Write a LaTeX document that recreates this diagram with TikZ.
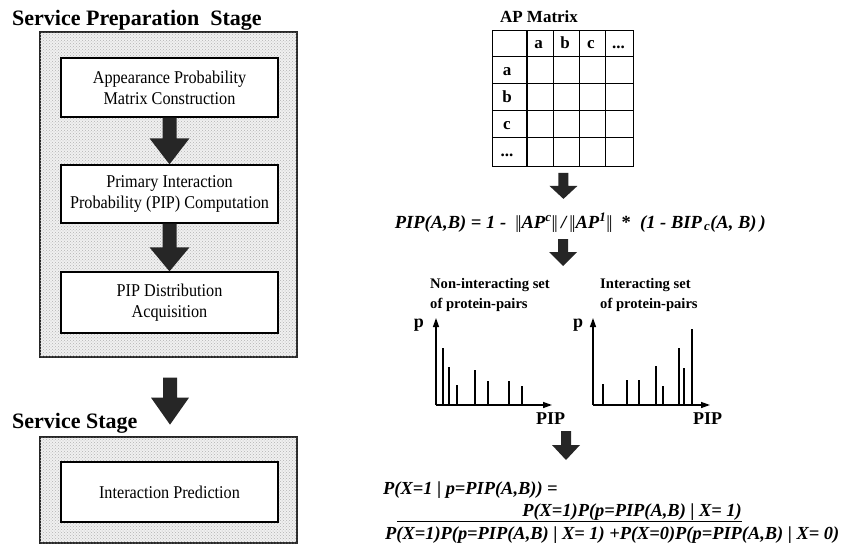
\documentclass[tikz,border=0pt]{standalone}
\usepackage{fontspec}
\setmainfont{Liberation Serif}
\newfontfamily\narrowserif[FakeStretch=0.9]{Liberation Serif}
\usetikzlibrary{patterns,arrows.meta,calc}

% double bar used in the norm terms
\newcommand\dbar{\textup{\mdseries|\kern-1.2pt|}}

% block arrow between two points: start, tip, shaft half width, head half width, head length
\newcommand\fatarrow[5]{%
  \fill[fatarr] let \p1=(#1), \p2=(#2) in
    (\x1-#3pt,\y1) -- (\x1+#3pt,\y1) -- (\x1+#3pt,\y2+#5pt) -- (\x1+#4pt,\y2+#5pt)
    -- (\x1,\y2) -- (\x1-#4pt,\y2+#5pt) -- (\x1-#3pt,\y2+#5pt) -- cycle;}

\begin{document}
\begin{tikzpicture}[x=1pt,y=-1pt,
  stage/.style={draw=black!85, line width=1.3pt, fill=black!6,
    postaction={pattern=crosshatch dots, pattern color=black!30}, inner sep=0pt},
  stepbox/.style={draw=black, line width=1.4pt, fill=white, align=center,
    inner sep=0pt, minimum width=217pt,
    font=\narrowserif\fontsize{18}{21}\selectfont},
  stagetitle/.style={anchor=base west, inner sep=0pt,
    font=\bfseries\fontsize{22}{26}\selectfont},
  fatarr/.style={fill=black!85},
  fml/.style={inner sep=0pt, font=\bfseries\itshape\fontsize{18.5}{20}\selectfont},
  fmlb/.style={inner sep=0pt, font=\bfseries\itshape\fontsize{18.4}{20}\selectfont},
  setlabel/.style={anchor=west, align=left, inner sep=0pt,
    font=\bfseries\fontsize{14.6}{20}\selectfont},
  axlabel/.style={inner sep=0pt, font=\bfseries\fontsize{18}{20}\selectfont},
  cell/.style={inner sep=0pt, anchor=base, font=\bfseries\fontsize{17}{18}\selectfont},
  grid/.style={line width=1.2pt},
  axis/.style={line width=1.3pt, -{Triangle[length=9pt,width=6pt]}},
  bar/.style={line width=1.8pt},
]
\useasboundingbox (0,0) rectangle (843,546);

% ---------------- left column: the two stages ----------------
\node[stagetitle] (t1) at (12,25) {Service Preparation\ \ Stage};
\node[stage, minimum width=257pt, minimum height=325pt] (prep) at (168.5,194.5) {};

\node[stepbox, minimum height=59pt] (b1) at (169.5,87.5)
  {Appearance Probability\\Matrix Construction};
\node[stepbox, minimum height=58pt] (b2) at (169.5,194)
  {Primary Interaction\\Probability (PIP) Computation};
\node[stepbox, minimum height=61pt] (b3) at (169.5,302.5)
  {PIP Distribution\\Acquisition};

\fatarrow{b1.south}{b2.north}{7}{20}{26}
\fatarrow{b2.south}{b3.north}{7}{20}{24}

\coordinate (g1) at ($(prep.south)+(1.5,20)$);
\coordinate (g2) at ($(prep.south)+(1.5,67)$);
\fatarrow{g1}{g2}{7}{19}{27}

\node[stagetitle] (t2) at (12,428) {Service Stage};
\node[stage, minimum width=257pt, minimum height=106pt] (serv) at (168.5,490) {};
\node[stepbox, minimum height=60pt] (b4) at (169.5,492) {Interaction Prediction};

% ---------------- right column: AP matrix and PIP model ----------------
\node[anchor=base, inner sep=0pt, font=\bfseries\fontsize{17}{20}\selectfont]
  (aplabel) at (539,23) {AP Matrix};

% 5 x 5 table of appearance probabilities
\node[draw, grid, anchor=north west, inner sep=0pt,
  minimum width=140.7pt, minimum height=135.7pt] (apm) at (492,30) {};
\foreach \cx in {527,553.3,579.3,605.3}
  \draw[grid] (\cx,30) -- (\cx,165.7);
\foreach \ry in {56.7,83.3,110.7,137.7}
  \draw[grid] (492,\ry) -- (632.7,\ry);
\node[cell] (ha) at (538.5,48.5) {a};
\node[cell] (hb) at (565,48.5) {b};
\node[cell] (hc) at (591,48.5) {c};
\node[cell] (hd) at (618.5,48.5) {...};
\node[cell] (ra) at (507,75) {a};
\node[cell] (rb) at (507,102) {b};
\node[cell] (rc) at (507,129) {c};
\node[cell] (rd) at (507,156) {...};

\coordinate (m1) at ($(apm.south)+(0.5,6)$);
\coordinate (m2) at ($(apm.south)+(0.5,32)$);
\fatarrow{m1}{m2}{5}{14}{13}

% PIP formula, split at the slash
\node[fml, anchor=base east] (f1) at (561,228)
  {PIP(A,B) = 1 -\ \ \dbar AP\textsuperscript{c}\dbar\,};
\node[fml, anchor=base west] (f1r) at (f1.base east)
  {/\,\dbar AP\textsuperscript{1}\dbar\ \ \textup{*}\ \ (1 - BIP\textsubscript{\,c}(A, B)\,)};

\coordinate (m3) at (563,239);
\coordinate (m4) at (563,266);
\fatarrow{m3}{m4}{5}{14}{14}

% distribution of non-interacting pairs
\node[setlabel] (l1) at (430,295) {Non-interacting set\\of protein-pairs};
\coordinate (o1) at (436,405);
\draw[axis] (o1) -- ++(0,-87);
\draw[axis] (o1) -- ++(116,0);
\node[axlabel, anchor=center] (p1) at (419,325) {p};
\node[axlabel, anchor=base west] (x1) at (536,424) {PIP};
\foreach \bx/\by in {443/348, 449/367, 457/385, 475/370, 488/381, 509/381, 522/386}
  \draw[bar] (\bx,405) -- (\bx,\by);

% distribution of interacting pairs
\node[setlabel] (l2) at (600,295) {Interacting set\\of protein-pairs};
\coordinate (o2) at (593,405);
\draw[axis] (o2) -- ++(0,-87);
\draw[axis] (o2) -- ++(117,0);
\node[axlabel, anchor=center] (p2) at (578,325) {p};
\node[axlabel, anchor=base west] (x2) at (693,424) {PIP};
\foreach \bx/\by in {603/384, 627/380, 639/380, 656/366, 663/386, 679/348, 684/368, 692/329}
  \draw[bar] (\bx,405) -- (\bx,\by);

\coordinate (m5) at (566,431);
\coordinate (m6) at (566,460);
\fatarrow{m5}{m6}{5}{14}{15}

% posterior probability of interaction
\node[fmlb, anchor=base west] (f2) at (383,494) {P(X=1 \textup{|} p=PIP(A,B)) =};
\node[fmlb, anchor=base east] (num) at (742,516)
  {\underline{P(X=1)P(p=PIP(A,B) \textup{|} X= 1)}};
\coordinate (fb) at (397,521);
\draw[line width=1pt] (fb) -- (fb -| num.east);
\node[fmlb, anchor=base west] (den) at (385,539)
  {P(X=1)P(p=PIP(A,B) \textup{|} X= 1) +P(X=0)P(p=PIP(A,B) \textup{|} X= 0)};
\end{tikzpicture}
\end{document}
